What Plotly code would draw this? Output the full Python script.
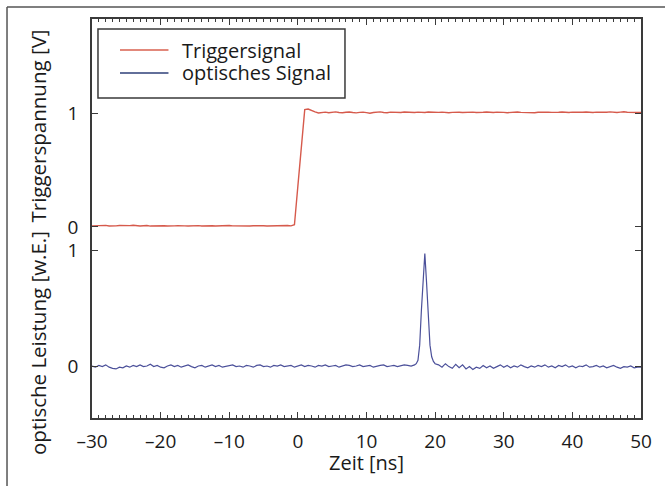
import plotly.graph_objects as go

# ---------------- data ----------------
trig_time = [
    -30, -29.5, -29, -28.5, -28, -27.5, -27, -26.5, -26, -25.5,
    -25, -24.5, -24, -23.5, -23, -22.5, -22, -21.5, -21, -20.5,
    -20, -19.5, -19, -18.5, -18, -17.5, -17, -16.5, -16, -15.5,
    -15, -14.5, -14, -13.5, -13, -12.5, -12, -11.5, -11, -10.5,
    -10, -9.5, -9, -8.5, -8, -7.5, -7, -6.5, -6, -5.5,
    -5, -4.5, -4, -3.5, -3, -2.5, -2, -1.5, -1, -0.5,
    0, 0.5, 1, 1.5, 2, 2.5,
    3, 3.5, 4, 4.5, 5, 5.5, 6, 6.5, 7, 7.5,
    8, 8.5, 9, 9.5, 10, 10.5, 11, 11.5, 12, 12.5,
    13, 13.5, 14, 14.5, 15, 15.5, 16, 16.5, 17, 17.5,
    18, 18.5, 19, 19.5, 20, 20.5, 21, 21.5, 22, 22.5,
    23, 23.5, 24, 24.5, 25, 25.5, 26, 26.5, 27, 27.5,
    28, 28.5, 29, 29.5, 30, 30.5, 31, 31.5, 32, 32.5,
    33, 33.5, 34, 34.5, 35, 35.5, 36, 36.5, 37, 37.5,
    38, 38.5, 39, 39.5, 40, 40.5, 41, 41.5, 42, 42.5,
    43, 43.5, 44, 44.5, 45, 45.5, 46, 46.5, 47, 47.5,
    48, 48.5, 49, 49.5, 50,
]
trig_volt = [
    0.010, 0.012, 0.008, 0.011, 0.014, 0.009, 0.007, 0.010, 0.013, 0.011,
    0.008, 0.012, 0.015, 0.010, 0.009, 0.011, 0.013, 0.008, 0.010, 0.012,
    0.014, 0.011, 0.009, 0.007, 0.010, 0.012, 0.013, 0.010, 0.008, 0.011,
    0.014, 0.012, 0.009, 0.010, 0.013, 0.011, 0.008, 0.010, 0.012, 0.015,
    0.013, 0.010, 0.009, 0.011, 0.012, 0.010, 0.008, 0.011, 0.013, 0.014,
    0.011, 0.009, 0.010, 0.012, 0.011, 0.009, 0.012, 0.013, 0.010, 0.020,
    0.360, 0.700, 1.030, 1.035, 1.020, 1.010,
    1.000, 1.004, 1.008, 1.003, 1.006, 1.010, 1.005, 1.002, 1.007, 1.009,
    1.004, 1.001, 1.006, 1.008, 1.003, 0.998, 1.004, 1.007, 1.010, 1.005,
    1.003, 1.008, 1.006, 1.002, 1.005, 1.009, 1.007, 1.003, 1.005, 1.008,
    1.006, 1.004, 1.009, 1.007, 1.003, 1.006, 1.008, 1.005, 1.002, 1.006,
    1.009, 1.007, 1.004, 1.006, 1.010, 1.008, 1.005, 1.003, 1.007, 1.009,
    1.006, 1.004, 1.008, 1.010, 1.006, 1.003, 1.007, 1.005, 1.009, 1.006,
    1.004, 1.008, 1.006, 1.003, 1.007, 1.009, 1.005, 1.008, 1.006, 1.004,
    1.007, 1.009, 1.006, 1.005, 1.008, 1.006, 1.004, 1.007, 1.009, 1.006,
    1.005, 1.008, 1.006, 1.004, 1.007, 1.010, 1.006, 1.005, 1.008, 1.011,
    1.007, 1.005, 1.008, 1.006, 1.004,
]

opt_time = [
    -30, -29.5, -29, -28.5, -28, -27.5, -27, -26.5, -26, -25.5,
    -25, -24.5, -24, -23.5, -23, -22.5, -22, -21.5, -21, -20.5,
    -20, -19.5, -19, -18.5, -18, -17.5, -17, -16.5, -16, -15.5,
    -15, -14.5, -14, -13.5, -13, -12.5, -12, -11.5, -11, -10.5,
    -10, -9.5, -9, -8.5, -8, -7.5, -7, -6.5, -6, -5.5,
    -5, -4.5, -4, -3.5, -3, -2.5, -2, -1.5, -1, -0.5,
    0, 0.5, 1, 1.5, 2, 2.5, 3, 3.5, 4, 4.5,
    5, 5.5, 6, 6.5, 7, 7.5, 8, 8.5, 9, 9.5,
    10, 10.5, 11, 11.5, 12, 12.5, 13, 13.5, 14, 14.5,
    15, 15.5, 16, 16.5, 17,
    17.25, 17.5, 17.75, 18, 18.25, 18.5, 18.75, 19, 19.25, 19.5, 19.75, 20,
    20.5, 21, 21.5, 22, 22.5, 23, 23.5, 24, 24.5, 25,
    25.5, 26, 26.5, 27, 27.5, 28, 28.5, 29, 29.5, 30,
    30.5, 31, 31.5, 32, 32.5, 33, 33.5, 34, 34.5, 35,
    35.5, 36, 36.5, 37, 37.5, 38, 38.5, 39, 39.5, 40,
    40.5, 41, 41.5, 42, 42.5, 43, 43.5, 44, 44.5, 45,
    45.5, 46, 46.5, 47, 47.5, 48, 48.5, 49, 49.5, 50,
]
opt_power = [
    0.000, -0.010, 0.005, -0.005, 0.010, -0.010, -0.020, -0.025, -0.010, -0.015,
    0.000, -0.010, 0.005, -0.005, 0.010, -0.005, 0.000, 0.015, -0.005, 0.005,
    -0.010, -0.015, 0.000, 0.010, -0.005, 0.005, -0.010, 0.000, 0.010, -0.005,
    -0.015, 0.000, 0.005, -0.010, 0.000, 0.010, -0.005, 0.005, -0.010, -0.005,
    0.005, 0.010, -0.005, 0.000, -0.010, 0.005, 0.000, -0.010, 0.005, 0.010,
    -0.005, 0.000, -0.010, 0.005, 0.000, 0.010, -0.005, 0.000, 0.005, -0.010,
    0.000, 0.010, -0.005, 0.005, 0.000, -0.010, 0.005, 0.000, 0.010, -0.005,
    0.000, 0.005, -0.010, 0.000, 0.010, 0.005, -0.005, 0.000, 0.010, -0.005,
    0.000, 0.005, -0.010, 0.000, 0.005, 0.010, -0.005, 0.000, 0.005, -0.005,
    0.000, 0.010, 0.005, 0.000, 0.010,
    0.020, 0.050, 0.180, 0.480, 0.760, 0.970, 0.720, 0.450, 0.180, 0.080, 0.040, 0.020,
    0.010, -0.010, 0.020, -0.005, -0.020, 0.015, -0.015, 0.010, -0.025, -0.005,
    -0.030, -0.010, -0.020, 0.005, -0.015, 0.000, -0.020, -0.005, 0.010, -0.010,
    0.005, -0.015, 0.000, -0.010, 0.010, -0.005, -0.015, 0.000, -0.010, 0.005,
    -0.005, 0.010, -0.010, 0.000, -0.015, 0.005, -0.005, 0.010, -0.010, 0.000,
    -0.015, 0.000, -0.005, 0.010, -0.010, -0.005, 0.005, -0.010, 0.000, -0.015,
    -0.005, 0.005, -0.010, -0.020, -0.005, -0.010, 0.000, -0.015, -0.010, -0.010,
]

x_ticks = [-30, -20, -10, 0, 10, 20, 30, 40, 50]
y_ticks = [0, 1]
legend_labels = ["Triggersignal", "optisches Signal"]

RED = "#d65a4c"
BLUE = "#4b509a"
AX = "#3a3a3a"
FONT = "Open Sans"
FS = 19

fig = go.Figure()
fig.add_trace(go.Scatter(x=trig_time, y=trig_volt, mode="lines", xaxis="x2", yaxis="y2",
                         line=dict(color=RED, width=1.4), name=legend_labels[0], showlegend=False))
fig.add_trace(go.Scatter(x=opt_time, y=opt_power, mode="lines", xaxis="x", yaxis="y",
                         line=dict(color=BLUE, width=1.2), name=legend_labels[1], showlegend=False))

common_x = dict(range=[-30, 50], showgrid=False, zeroline=False, showline=True,
                linecolor=AX, linewidth=1.5, ticks="inside", ticklen=6, tickwidth=1.2,
                tickcolor=AX, tickvals=x_ticks,
                minor=dict(dtick=1, tick0=0, ticks="inside", ticklen=3, tickwidth=1, tickcolor=AX))

ytick_style = dict(showgrid=False, zeroline=False, showline=True, mirror="ticks",
                   linecolor=AX, linewidth=1.5, ticks="inside", ticklen=6, tickwidth=1.2,
                   tickcolor=AX, ticklabelstandoff=8, tickfont=dict(size=FS), tickvals=y_ticks)

fig.update_layout(
    width=665, height=486,
    margin=dict(l=92, r=24, t=19, b=68),
    paper_bgcolor="white", plot_bgcolor="white",
    font=dict(family=FONT, size=FS, color="#1a1a1a"),
    showlegend=False,
    xaxis=dict(**common_x, anchor="y", side="bottom", showticklabels=True,
               ticktext=[str(v).replace("-", "\u2013") for v in x_ticks],
               ticklabelstandoff=5, tickfont=dict(size=FS)),
    xaxis2=dict(**common_x, anchor="y2", side="top", matches="x", showticklabels=False),
    yaxis=dict(domain=[0, 0.4536], range=[-0.448, 1.112], **ytick_style),
    yaxis2=dict(domain=[0.4536, 1], range=[-0.088, 1.825], **ytick_style),
)

# axis titles
fig.add_annotation(text="Zeit [ns]", xref="paper", yref="paper", x=0.5, y=-0.112,
                   xanchor="center", yanchor="middle", showarrow=False, font=dict(size=20))
fig.add_annotation(text="Triggerspannung [V]", xref="paper", yref="paper", x=-0.0984, y=0.733,
                   textangle=-90, xanchor="center", yanchor="middle", showarrow=False,
                   font=dict(size=20.5))
fig.add_annotation(text="optische Leistung [w.E.]", xref="paper", yref="paper", x=-0.0984, y=0.188,
                   textangle=-90, xanchor="center", yanchor="middle", showarrow=False,
                   font=dict(size=20.5))

# legend (drawn box)
fig.add_shape(type="rect", xref="paper", yref="paper", x0=0.0109, x1=0.4608, y0=0.802, y1=0.975,
              line=dict(color=AX, width=1.5), fillcolor="white", layer="above")
for yy, col, lab in [(0.9223, "#d9604f", legend_labels[0]), (0.8647, "#2e3f78", legend_labels[1])]:
    fig.add_shape(type="line", xref="paper", yref="paper", x0=0.051, x1=0.1393, y0=yy, y1=yy,
                  line=dict(color=col, width=1.5), layer="above")
    fig.add_annotation(text=lab, xref="paper", yref="paper", x=0.161, y=yy, xanchor="left",
                       yanchor="middle", showarrow=False, font=dict(size=20))

# outer frame (left and top edges of the picture frame)
fig.add_shape(type="line", xref="paper", yref="paper", x0=-0.1548, x1=-0.1548, y0=-0.25, y1=1.0301,
              line=dict(color="#555", width=1.5))
fig.add_shape(type="line", xref="paper", yref="paper", x0=-0.1548, x1=1.1, y0=1.0301, y1=1.0301,
              line=dict(color="#555", width=1.5))

fig.write_html("out.html", config={"displayModeBar": False},
               post_script="document.body.style.margin='0';document.body.style.overflow='hidden';")
